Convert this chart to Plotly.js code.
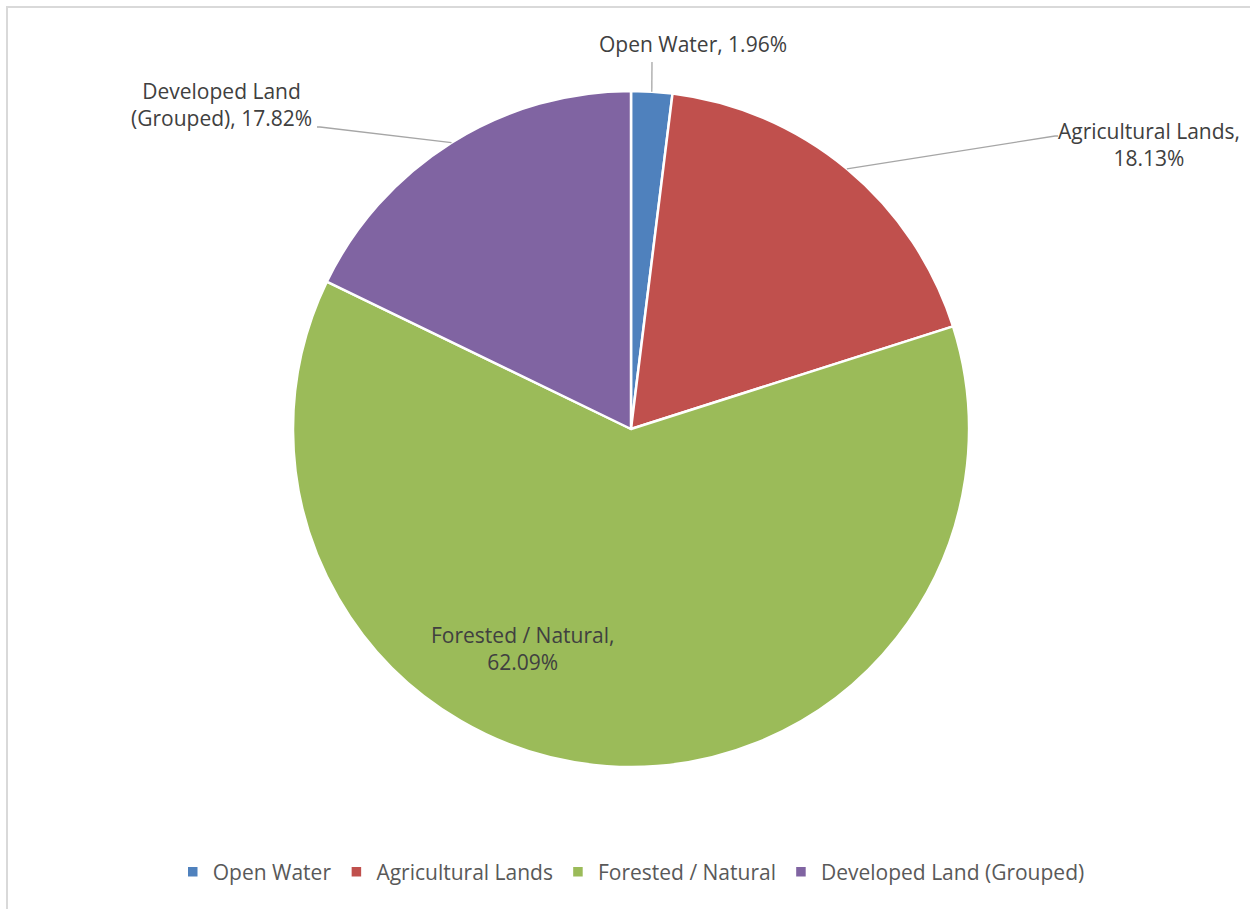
<!DOCTYPE html>
<html>
<head>
<meta charset="utf-8">
<script src="https://cdn.plot.ly/plotly-3.0.1.min.js"></script>
<style>
  html, body { margin: 0; padding: 0; background: #ffffff; overflow: hidden; }
  #chart { position: absolute; left: 0; top: 0; width: 1250px; height: 909px; }
  #frame { position: absolute; left: 6px; top: 6px; width: 1400px; height: 1100px;
           border-left: 2px solid #d9d9d9; border-top: 2px solid #d9d9d9; pointer-events: none; }
</style>
</head>
<body>
<div id="chart"></div>
<div id="frame"></div>
<script>
// ---- data ----
const categories = ['Open Water', 'Agricultural Lands', 'Forested / Natural', 'Developed Land (Grouped)'];
const shares = [1.96, 18.13, 62.09, 17.82];
const colors = ['#4f81bd', '#c0504d', '#9bbb59', '#8064a2'];

// ---- layout constants (pixels) ----
const W = 1250, H = 909;
const CX = 631, CY = 429, R = 338;
const px = x => x / W;
const py = y => 1 - y / H;

// label text: "Category, value%" with line breaks like the reference
function labelText(i) {
  const v = shares[i].toFixed(2) + '%';
  const c = categories[i];
  if (i === 0) return c + ', ' + v;
  if (i === 1 || i === 2) return c + ',<br>' + v;
  const m = c.match(/^(.*) (\(.*\))$/);
  return m[1] + '<br>' + m[2] + ', ' + v;
}

// label placements (text centres, px) and leader elbows, in category order
const labelPos = [[693, 44], [1149, 144], [522, 648], [221, 105]];
const elbows = [[[652, 62]], [[1055, 136], [1058, 136]], null, [[320, 127], [317, 127]]];

const total = shares.reduce((a, b) => a + b, 0);
let cum = 0;
const shapes = [];
const annotations = [];
shares.forEach((s, i) => {
  const mid = (cum + s / 2) / total;
  cum += s;
  const th = 2 * Math.PI * mid;
  const ex = CX + R * Math.sin(th), ey = CY - R * Math.cos(th);
  if (elbows[i]) {
    let path = 'M' + px(ex) + ',' + py(ey);
    elbows[i].forEach(p => { path += ' L' + px(p[0]) + ',' + py(p[1]); });
    shapes.push({ type: 'path', xref: 'paper', yref: 'paper', path: path,
                  line: { color: '#a6a6a6', width: 1.3 } });
  }
  annotations.push({
    xref: 'paper', yref: 'paper', x: px(labelPos[i][0]), y: py(labelPos[i][1]),
    xanchor: 'center', yanchor: 'middle', align: 'center', showarrow: false,
    text: labelText(i),
    font: { family: 'Open Sans, sans-serif', size: 21, color: '#404040' }
  });
});

const trace = {
  type: 'pie',
  labels: categories,
  values: shares,
  sort: false,
  direction: 'clockwise',
  rotation: 0,
  textinfo: 'none',
  hoverinfo: 'label+percent',
  marker: { colors: colors, line: { color: '#ffffff', width: 2.5 } },
  domain: { x: [px(CX - R), px(CX + R)], y: [py(CY + R), py(CY - R)] }
};

const layout = {
  width: W, height: H,
  margin: { l: 0, r: 0, t: 0, b: 0, autoexpand: false },
  paper_bgcolor: '#ffffff',
  showlegend: true,
  legend: {
    orientation: 'h', x: 0.505, xanchor: 'center', y: py(872), yanchor: 'middle',
    font: { family: 'Open Sans, sans-serif', size: 21, color: '#595959' },
    traceorder: 'normal'
  },
  shapes: shapes,
  annotations: annotations
};

Plotly.newPlot('chart', [trace], layout, { displayModeBar: false, staticPlot: true });
</script>
</body>
</html>
